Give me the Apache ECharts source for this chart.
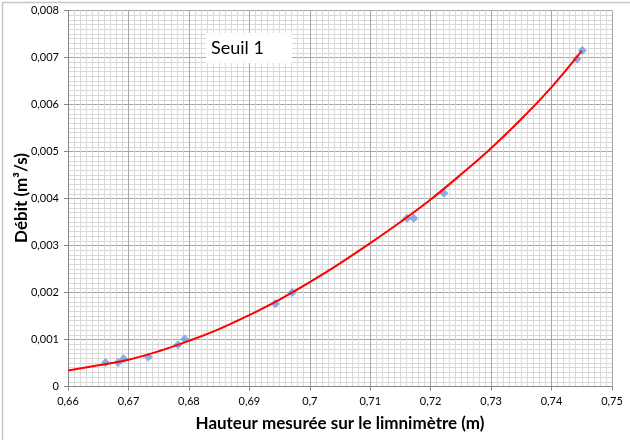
<!DOCTYPE html>
<html><head><meta charset="utf-8">
<script src="https://cdn.jsdelivr.net/npm/echarts@6/dist/echarts.min.js"></script>
<style>html,body{margin:0;padding:0;background:#fff}#c{width:630px;height:440px}</style>
</head><body><div id="c"></div>
<script>
// Measured points
const heights = [0.6662, 0.6683, 0.6692, 0.6733, 0.6782, 0.6793, 0.6943, 0.6971, 0.7161, 0.7172, 0.7222, 0.7442, 0.7451];
const flows   = [0.00051, 0.00051, 0.00059, 0.00063, 0.00089, 0.00101, 0.00176, 0.00200, 0.00358, 0.00358, 0.00411, 0.00697, 0.00715];
// Trend curve
const fitH = [0.66,0.665,0.67,0.675,0.68,0.685,0.69,0.695,0.70,0.705,0.71,0.715,0.72,0.725,0.73,0.735,0.74,0.745];
const fitQ = [0.00034,0.00045,0.00057,0.00075,0.00097,0.00122,0.00152,0.00185,0.00222,0.00262,0.00305,0.00350,0.00398,0.00451,0.00507,0.00569,0.00637,0.00714];
const xTitle = 'Hauteur mesurée sur le limnimètre (m)';
const yTitle = 'Débit (m³/s)';
const boxLabel = 'Seuil 1';

const font = 'Lato, "Open Sans", sans-serif';
const chart = echarts.init(document.getElementById('c'), null, {renderer:'canvas'});
chart.setOption({
  animation:false,
  backgroundColor:'#fff',
  grid:{left:68, right:18, top:10.5, bottom:53.5, containLabel:false},
  xAxis:{
    type:'value', min:0.66, max:0.75, interval:0.01,
    axisLine:{show:true, lineStyle:{color:'#868686', width:1}},
    axisTick:{show:true, inside:false, length:4, lineStyle:{color:'#868686'}},
    axisLabel:{color:'#000', fontFamily:font, fontSize:11, margin:9,
      formatter:v=>String(Number(v.toFixed(2))).replace('.', ',')},
    splitLine:{show:true, lineStyle:{color:'#a6a6a6', width:1}},
    minorTick:{show:false, splitNumber:10},
    minorSplitLine:{show:true, lineStyle:{color:'#d9d9d9', width:1}}
  },
  yAxis:{
    type:'value', min:0, max:0.008, interval:0.001,
    axisLine:{show:true, lineStyle:{color:'#868686', width:1}},
    axisTick:{show:true, inside:false, length:4, lineStyle:{color:'#868686'}},
    axisLabel:{color:'#000', fontFamily:font, fontSize:11, margin:9,
      formatter:v=>v===0?'0':v.toFixed(3).replace('.', ',')},
    splitLine:{show:true, lineStyle:{color:'#a6a6a6', width:1}},
    minorTick:{show:false, splitNumber:10},
    minorSplitLine:{show:true, lineStyle:{color:'#d9d9d9', width:1}}
  },
  series:[
    {type:'scatter', data:heights.map((h,i)=>[h,flows[i]]), symbol:'diamond', symbolSize:9,
     itemStyle:{color:'#6b9be0'}, z:2},
    {type:'line', data:fitH.map((h,i)=>[h,fitQ[i]]), smooth:0.4, showSymbol:false,
     lineStyle:{color:'#ff0000', width:2}, z:3}
  ],
  graphic:[
    {type:'rect', left:0, top:0, shape:{x:0.5,y:0.5,width:629,height:439}, style:{fill:'none', stroke:'#c6c6c6', lineWidth:1.5}, silent:true},
    {type:'rect', shape:{x:206, y:33, width:86, height:30}, style:{fill:'#fff'}, z:10},
    {type:'text', x:211, y:48, style:{text:boxLabel, fill:'#000', font:'18px '+font, verticalAlign:'middle'}, z:11},
    {type:'text', x:340, y:424, style:{text:xTitle, fill:'#000', font:'bold 17px '+font, align:'center', verticalAlign:'middle'}, z:11},
    {type:'text', x:22, y:198, rotation:Math.PI/2, style:{text:yTitle, fill:'#000', font:'bold 17px '+font, align:'center', verticalAlign:'middle'}, z:11}
  ]
});
</script></body></html>
